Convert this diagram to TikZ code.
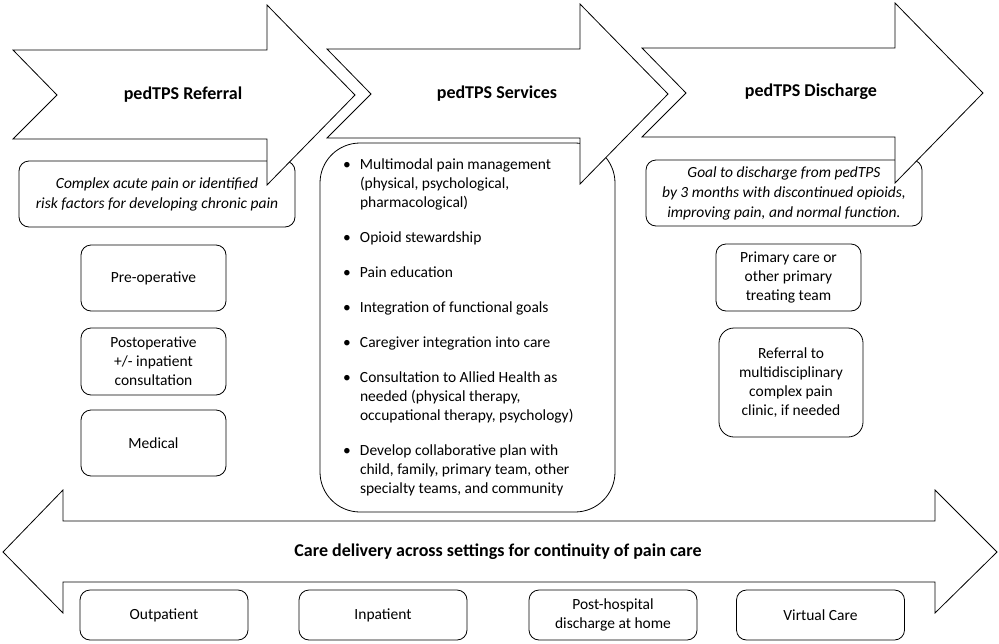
\documentclass[tikz,border=0pt]{standalone}
\usepackage{fontspec}
\setmainfont{Carlito}
\newcommand\svcitem[1]{\par\hangindent=17pt\hangafter=1\noindent\makebox[17pt][l]{\textbullet}#1\par}
\begin{document}
\begin{tikzpicture}[x=1pt,y=-1pt,line width=0.8pt,
  box/.style={draw, rounded corners=10pt, fill=white, align=center,
    font=\fontsize{15.5}{19}\selectfont, inner sep=0pt},
  arrowshape/.style={draw, fill=white, line join=miter},
  title/.style={font=\fontsize{18}{22}\selectfont\bfseries, inner sep=0pt}]
\useasboundingbox (0,0) rectangle (999,643);

% left column
\node[box, minimum width=276pt, minimum height=66pt, font=\fontsize{15.5}{20}\selectfont\itshape] (complex) at (157,194)
  {Complex acute pain or identified\\risk factors for developing chronic pain};
\node[box, minimum width=145pt, minimum height=66pt] (preop) at (153.5,278) {Pre-operative};
\node[box, minimum width=145pt, minimum height=67pt] (postop) at (153.5,361.5) {Postoperative\\+/- inpatient\\consultation};
\node[box, minimum width=145pt, minimum height=66pt] (medical) at (153.5,443) {Medical};

% services
\node[box, rounded corners=40pt, minimum width=295pt, minimum height=369pt, align=left] (services) at (467.5,327.5)
  {\begin{minipage}{249pt}\raggedright\setlength{\parskip}{16pt}\fontsize{15.5}{19}\selectfont
   \svcitem{Multimodal pain management\newline(physical, psychological,\newline pharmacological)}
   \svcitem{Opioid stewardship}
   \svcitem{Pain education}
   \svcitem{Integration of functional goals}
   \svcitem{Caregiver integration into care}
   \svcitem{Consultation to Allied Health as\newline needed (physical therapy,\newline occupational therapy, psychology)}
   \svcitem{Develop collaborative plan with\newline child, family, primary team, other\newline specialty teams, and community}
   \end{minipage}};

% right column
\node[box, minimum width=276pt, minimum height=66pt, font=\fontsize{15.5}{20}\selectfont\itshape] (goal) at (784,193)
  {Goal to discharge from pedTPS\\by 3 months with discontinued opioids,\\improving pain, and normal function.};
\node[box, minimum width=145pt, minimum height=67pt] (primary) at (788.5,277.5) {Primary care or\\other primary\\treating team};
\node[box, rounded corners=15pt, minimum width=144pt, minimum height=109pt] (clinic) at (791,382.5)
  {Referral to\\multidisciplinary\\complex pain\\clinic, if needed};

% top arrows
\draw[arrowshape] (13,50) -- (267,50) -- (267,5) -- (355,95) -- (267,185) -- (267,139) -- (13,139) -- (57,95) -- cycle;
\draw[arrowshape] (327,49) -- (580,49) -- (580,4) -- (668,94) -- (580,184) -- (580,138) -- (327,138) -- (371,94) -- cycle;
\draw[arrowshape] (642,48) -- (895,48) -- (895,3) -- (983,93) -- (895,183) -- (895,137) -- (642,137) -- (686,93) -- cycle;
\node[title] (t1) at (183,95) {pedTPS Referral};
\node[title] (t2) at (497,94) {pedTPS Services};
\node[title] (t3) at (811,92) {pedTPS Discharge};

% bottom double arrow
\draw[arrowshape] (3,552) -- (63,490) -- (63,521) -- (935,521) -- (935,490) -- (997,552) -- (935,613) -- (935,582) -- (63,582) -- (63,613) -- cycle;
\node[title] (care) at (498,552) {Care delivery across settings for continuity of pain care};

% bottom boxes
\node[box, minimum width=168pt, minimum height=50pt] (outp) at (164,615) {Outpatient};
\node[box, minimum width=168pt, minimum height=50pt] (inp) at (383,615) {Inpatient};
\node[box, minimum width=168pt, minimum height=50pt] (post) at (613,615) {Post-hospital\\discharge at home};
\node[box, minimum width=168pt, minimum height=50pt] (virt) at (820.5,615) {Virtual Care};
\end{tikzpicture}
\end{document}
